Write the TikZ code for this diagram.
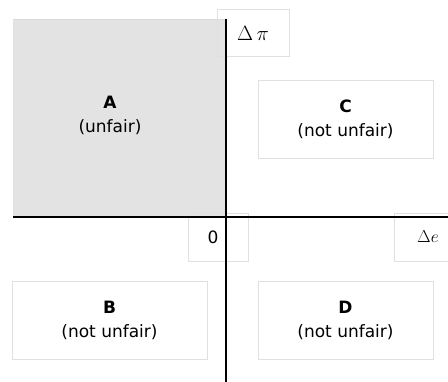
\documentclass[tikz,border=0pt]{standalone}
\usepackage{fontspec}
\setmainfont{DejaVu Sans}
\begin{document}
\begin{tikzpicture}[x=1pt,y=-1pt,
  lblbox/.style={draw=black!12,line width=0.8pt,align=center,font=\fontsize{17}{24}\selectfont},
  axis/.style={black,line width=2.6pt}]
\useasboundingbox (0,0) rectangle (448,382);
% shaded quadrant
\fill[black!11] (13,19) rectangle (225,217);
\draw[black!14,line width=0.8pt] (13,19) -- (225,19);
% quadrant boxes
\node[font=\fontsize{17}{24}\selectfont,align=center] (regA) at (110,115) {\textbf{A}\\(unfair)};
\node[lblbox,minimum width=175,minimum height=78] (regC) at (345.5,119) {\textbf{C}\\(not unfair)};
\node[lblbox,minimum width=195,minimum height=78] (regB) at (109.5,320) {\textbf{B}\\(not unfair)};
\node[lblbox,minimum width=175,minimum height=78] (regD) at (345.5,320) {\textbf{D}\\(not unfair)};
% axis labels
\node[lblbox,minimum width=72,minimum height=47,font=\fontsize{20}{24}\selectfont] (lblPi) at (253,33) {$\Delta\,\pi$};
\node[lblbox,minimum width=60,minimum height=48] (lblZero) at (218,237) {0\hspace{10pt}};
\node[lblbox,minimum width=68,minimum height=48,font=\fontsize{18}{24}\selectfont] (lblE) at (428,237) {$\Delta e$};
% axes
\coordinate (xl) at (13,217);
\coordinate (xr) at (448,217);
\coordinate (yt) at (226,19);
\coordinate (yb) at (226,382);
\draw[axis] (xl) -- (xr);
\draw[axis] (yt) -- (yb);
\end{tikzpicture}
\end{document}
